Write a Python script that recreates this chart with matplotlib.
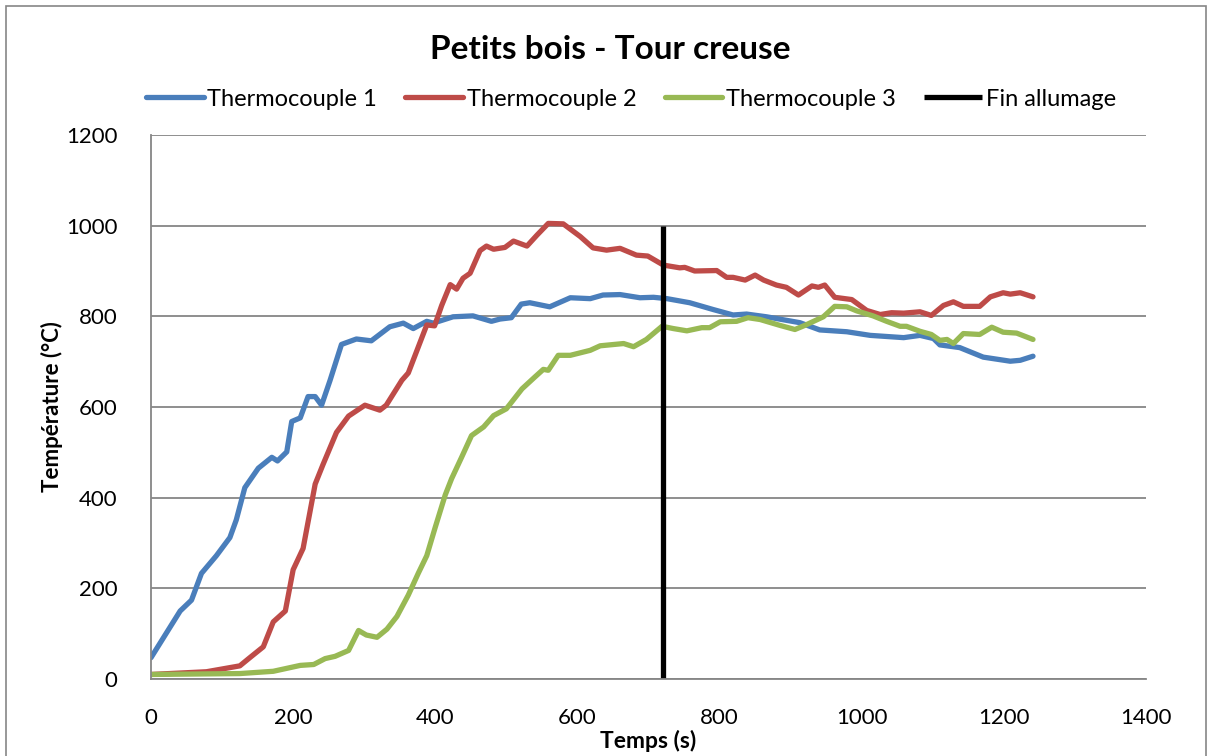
import matplotlib
matplotlib.use("Agg")
import matplotlib.pyplot as plt
from matplotlib.patches import Rectangle

# Time (s) and temperature (°C) for each thermocouple
t1 = [0, 41, 57, 71, 92, 111, 120, 132, 151, 170, 178, 191, 198, 210, 221, 231, 240, 252, 268, 289,
      310, 336, 355, 369, 388, 397, 425, 453, 479, 491, 507, 521, 533, 561, 590, 618, 636, 660, 688,
      707, 726, 758, 791, 819, 838, 866, 913, 941, 979, 1012, 1059, 1082, 1101, 1110, 1138, 1171,
      1209, 1223, 1241]
temp1 = [47, 150, 174, 233, 272, 312, 351, 422, 465, 489, 481, 501, 568, 576, 623, 623, 604, 659, 738,
         750, 746, 777, 785, 773, 789, 785, 799, 801, 789, 794, 797, 827, 830, 821, 841, 839, 847, 848,
         841, 842, 839, 830, 815, 803, 805, 799, 786, 770, 766, 758, 753, 758, 751, 737, 731, 710, 701,
         703, 712]

t2 = [0, 78, 125, 139, 158, 172, 189, 200, 214, 231, 242, 261, 278, 301, 322, 331, 353, 362, 388, 399,
      409, 421, 430, 439, 449, 463, 472, 482, 498, 510, 529, 543, 559, 580, 604, 622, 641, 660, 683,
      699, 721, 744, 751, 765, 796, 810, 819, 836, 850, 862, 880, 894, 911, 930, 939, 948, 962, 986,
      1007, 1026, 1042, 1059, 1082, 1098, 1115, 1129, 1143, 1166, 1181, 1199, 1209, 1223, 1241]
temp2 = [10, 16, 29, 47, 71, 126, 150, 241, 288, 430, 473, 544, 580, 604, 593, 604, 659, 675, 781, 779,
         824, 870, 860, 884, 895, 945, 955, 948, 952, 966, 955, 979, 1005, 1004, 976, 951, 946, 950,
         935, 933, 913, 907, 908, 900, 901, 886, 886, 880, 891, 880, 869, 864, 847, 867, 864, 869, 842,
         837, 813, 804, 808, 807, 810, 802, 824, 832, 822, 822, 843, 852, 849, 852, 843]

t3 = [0, 125, 172, 210, 229, 245, 259, 278, 292, 303, 318, 332, 346, 362, 376, 388, 400, 414, 423, 437,
      451, 468, 482, 500, 522, 540, 552, 559, 573, 590, 618, 632, 665, 679, 697, 719, 735, 754, 775,
      786, 801, 824, 840, 857, 885, 906, 920, 946, 962, 979, 993, 1016, 1035, 1054, 1063, 1082, 1098,
      1110, 1120, 1129, 1143, 1166, 1183, 1199, 1218, 1241]
temp3 = [10, 12, 17, 30, 32, 45, 50, 63, 107, 97, 92, 110, 138, 185, 233, 272, 335, 406, 442, 489,
         537, 556, 581, 596, 640, 666, 683, 681, 714, 714, 725, 735, 740, 733, 749, 778, 773, 768, 775,
         775, 788, 789, 797, 793, 780, 771, 780, 799, 822, 821, 812, 801, 789, 778, 778, 767, 760, 747,
         749, 740, 762, 760, 776, 765, 763, 749]

# End of ignition marker
fin_t = [720, 720]
fin_temp = [0, 1000]

series_labels = ["Thermocouple 1", "Thermocouple 2", "Thermocouple 3", "Fin allumage"]
x_ticks = [0, 200, 400, 600, 800, 1000, 1200, 1400]
y_ticks = [0, 200, 400, 600, 800, 1000, 1200]

plt.rcParams['font.family'] = ['Lato', 'DejaVu Sans']

fig = plt.figure(figsize=(12.13, 7.56), dpi=100)
ax = fig.add_axes([151 / 1213, 1 - 679 / 756, (1146 - 151) / 1213, (679 - 135) / 756])

grid_c = "#868686"
lw = 3.8
lines = []
lines += ax.plot(t1, temp1, color="#4A7EBB", lw=lw, solid_joinstyle="round", solid_capstyle="round")
lines += ax.plot(t2, temp2, color="#BE4B48", lw=lw, solid_joinstyle="round", solid_capstyle="round")
lines += ax.plot(t3, temp3, color="#98B954", lw=lw, solid_joinstyle="round", solid_capstyle="round")
lines += ax.plot(fin_t, fin_temp, color="black", lw=lw, solid_capstyle="butt")

ax.set_xlim(0, 1400)
ax.set_ylim(0, 1200)
ax.set_xticks(x_ticks)
ax.set_yticks(y_ticks)
ax.tick_params(axis="both", length=0, labelsize=16, colors="black")
ax.tick_params(axis="y", pad=24)
ax.tick_params(axis="x", pad=21)

ax.yaxis.grid(True, color=grid_c, lw=1.3)
ax.set_axisbelow(True)
for side in ("top", "right"):
    ax.spines[side].set_visible(False)
for side in ("left", "bottom"):
    ax.spines[side].set_color(grid_c)
    ax.spines[side].set_linewidth(1.3)

ax.set_xlabel("Temps (s)", fontsize=16.5, fontweight="bold", labelpad=1)
ax.set_ylabel("Température (°C)", fontsize=16, fontweight="bold", labelpad=2)

fig.text(0.503, 0.934, "Petits bois - Tour creuse", fontsize=24, fontweight="bold",
         ha="center", va="center")

fig.legend(lines, series_labels, loc="center", bbox_to_anchor=(0.520, 0.869), ncol=4,
           frameon=False, fontsize=17, handlelength=2.45, handletextpad=0.15,
           columnspacing=1.2, borderaxespad=0)

# Chart frame
fig.patches.append(Rectangle((6 / 1213, -0.05), 1200 / 1213, 1 - 6 / 756 + 0.05,
                             transform=fig.transFigure, fill=False, edgecolor=grid_c, lw=1.2))

fig.savefig("out.png", dpi=100)
